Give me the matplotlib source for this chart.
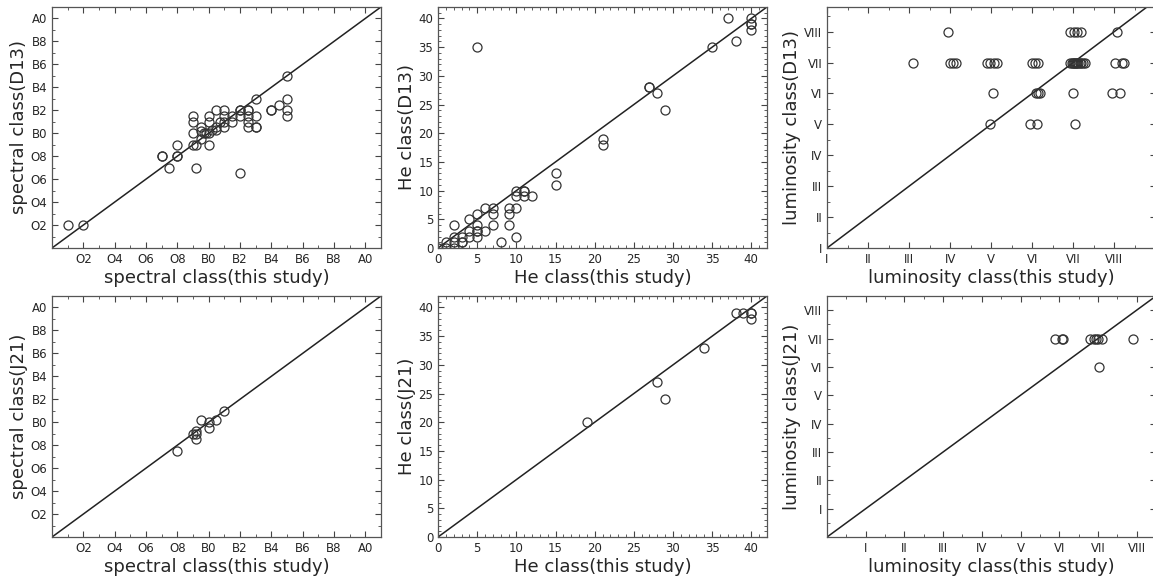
import numpy as np
import matplotlib
matplotlib.use("Agg")
from matplotlib import pyplot as plt
from matplotlib.ticker import MultipleLocator

# spectral class: O0 = 0, B0 = 10, A0 = 20
spec_x_d13 = [1, 2, 7, 7, 7.5, 8, 8, 8, 9, 9, 9, 9, 9.2, 9.2, 9.5, 9.5, 9.5, 9.7, 9.8,
              10, 10, 10, 10, 10.2, 10.5, 10.5, 10.5, 10.7, 11, 11, 11, 11, 11.5, 11.5,
              12, 12, 12, 12, 12.5, 12.5, 12.5, 12.5, 12.5, 13, 13, 13, 13, 14, 14,
              14.5, 15, 15, 15, 15]
spec_y_d13 = [2, 2, 8, 8, 7, 8, 8, 9, 11.5, 11, 10, 9, 9, 7, 10.5, 9.5, 10.2, 10, 10,
              11.5, 11, 10, 9, 10.3, 12, 10.3, 10.5, 11, 12, 11.5, 11, 10.5, 11.5, 11,
              12, 12, 11.5, 6.5, 12, 12, 11.5, 11, 10.5, 13, 10.5, 10.5, 11.5, 12, 12,
              12.5, 15, 13, 12, 11.5]

spec_x_j21 = [8, 9, 9.2, 9.2, 9.2, 9.5, 10, 10, 10.5, 11]
spec_y_j21 = [7.5, 9, 9.2, 9, 8.5, 10.2, 10, 9.5, 10.2, 11]

he_x_d13 = [0, 1, 1, 2, 2, 2, 2, 3, 3, 3, 4, 4, 4, 5, 5, 5, 5, 5, 5, 6, 6, 7, 7, 7,
            8, 9, 9, 9, 10, 10, 10, 10, 11, 11, 11, 12, 15, 15, 21, 21, 27, 27, 28,
            29, 35, 37, 38, 40, 40, 40, 40]
he_y_d13 = [0, 1, 0, 4, 2, 1, 0, 2, 1, 1, 5, 3, 2, 35, 6, 4, 3, 3, 2, 7, 3, 7, 6, 4,
            1, 7, 6, 4, 10, 9, 7, 2, 10, 10, 9, 9, 13, 11, 19, 18, 28, 28, 27,
            24, 35, 40, 36, 40, 39, 39, 38]

he_x_j21 = [19, 28, 29, 34, 38, 39, 40, 40, 40]
he_y_j21 = [20, 27, 24, 33, 39, 39, 39, 39, 38]

# luminosity class: I = 1 ... VIII = 8
lum_x_d13 = [3.95, 6.93, 7.01, 7.09, 7.19, 8.08,
             3.1, 4.0, 4.08, 4.15, 4.9, 4.98, 5.06, 5.14, 6.0, 6.08, 6.14,
             6.93, 6.96, 7.0, 7.02, 7.05, 7.08, 7.1, 7.13, 7.16, 7.2, 7.25, 7.3,
             8.02, 8.2, 8.25,
             5.05, 6.1, 6.15, 6.2, 7.0, 7.95, 8.15,
             4.98, 5.95, 6.12, 7.05]
lum_y_d13 = [8] * 6 + [7] * 26 + [6] * 7 + [5] * 4

lum_x_j21 = [5.9, 6.07, 6.1, 6.8, 6.9, 6.95, 7.0, 7.1, 7.9, 7.02]
lum_y_j21 = [7, 7, 7, 7, 7, 7, 7, 7, 7, 6]

spec_labels = ["O2", "O4", "O6", "O8", "B0", "B2", "B4", "B6", "B8", "A0"]
roman = ["I", "II", "III", "IV", "V", "VI", "VII", "VIII"]

plt.rcParams['font.family'] = 'DejaVu Sans'
plt.rcParams['text.color'] = '#262626'
plt.rcParams['axes.labelcolor'] = '#262626'

fig = plt.figure(figsize=(11.53, 5.77), dpi=100)

W, H = 0.2853, 0.4177
lefts = [0.0451, 0.3799, 0.7173]
bottoms = [0.5702, 0.0693]

def style(ax, minor):
    ax.xaxis.set_minor_locator(MultipleLocator(minor))
    ax.yaxis.set_minor_locator(MultipleLocator(minor))
    ax.tick_params(which='both', direction='in', top=True, right=True,
                   colors='#444444', labelcolor='#262626', labelsize=8.5)
    ax.tick_params(which='major', length=4, width=0.8)
    ax.tick_params(which='minor', length=2, width=0.6)
    for s in ax.spines.values():
        s.set_color('#555555')
        s.set_linewidth(0.9)

def scatter(ax, x, y):
    ax.plot(x, y, 'o', mfc='none', mec='#333333', ms=6.5, mew=0.9)

def diag(ax):
    ax.plot([0, 45], [0, 45], '-', color='#222222', lw=1.1)

# spectral class panels
for row, (x, y, ref) in enumerate([(spec_x_d13, spec_y_d13, "D13"),
                                   (spec_x_j21, spec_y_j21, "J21")]):
    ax = fig.add_axes([lefts[0], bottoms[row], W, H])
    diag(ax)
    scatter(ax, x, y)
    ax.set_xlim(0, 21)
    ax.set_ylim(0, 21)
    ax.set_xticks(np.arange(2, 21, 2))
    ax.set_xticklabels(spec_labels)
    ax.set_yticks(np.arange(2, 21, 2))
    ax.set_yticklabels(spec_labels)
    style(ax, 1)
    ax.set_xlabel("spectral class(this study)", fontsize=13, labelpad=2)
    ax.set_ylabel("spectral class(" + ref + ")", fontsize=13, labelpad=2)

# He class panels
for row, (x, y, ref) in enumerate([(he_x_d13, he_y_d13, "D13"),
                                   (he_x_j21, he_y_j21, "J21")]):
    ax = fig.add_axes([lefts[1], bottoms[row], W, H])
    diag(ax)
    scatter(ax, x, y)
    ax.set_xlim(0, 42)
    ax.set_ylim(0, 42)
    ax.set_xticks(np.arange(0, 41, 5))
    ax.set_yticks(np.arange(0, 41, 5))
    style(ax, 1)
    ax.set_xlabel("He class(this study)", fontsize=13, labelpad=2)
    ax.set_ylabel("He class(" + ref + ")", fontsize=13, labelpad=2)

# luminosity class panels
ax = fig.add_axes([lefts[2], bottoms[0], W, H])
diag(ax)
scatter(ax, lum_x_d13, lum_y_d13)
ax.set_xlim(1, 9.02)
ax.set_ylim(1, 8.8)
ax.set_xticks(np.arange(1, 9))
ax.set_xticklabels(roman)
ax.set_yticks(np.arange(1, 9))
ax.set_yticklabels(roman)
style(ax, 0.5)
ax.set_xlabel("luminosity class(this study)", fontsize=13, labelpad=2)
ax.set_ylabel("luminosity class(D13)", fontsize=13, labelpad=2)

ax = fig.add_axes([lefts[2], bottoms[1], W, H])
diag(ax)
scatter(ax, lum_x_j21, lum_y_j21)
ax.set_xlim(0, 8.5)
ax.set_ylim(0, 8.5)
ax.set_xticks(np.arange(1, 9))
ax.set_xticklabels(roman)
ax.set_yticks(np.arange(1, 9))
ax.set_yticklabels(roman)
style(ax, 0.5)
ax.set_xlabel("luminosity class(this study)", fontsize=13, labelpad=2)
ax.set_ylabel("luminosity class(J21)", fontsize=13, labelpad=2)

fig.savefig("out.png", dpi=100)
